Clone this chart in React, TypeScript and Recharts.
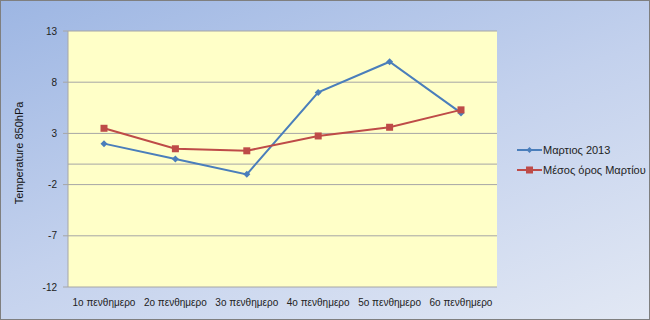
import { CartesianGrid, Line, LineChart, ReferenceLine, XAxis, YAxis } from "recharts";

const categories = ["1ο πενθημερο", "2ο πενθημερο", "3ο πενθημερο", "4ο πενθημερο", "5ο πενθημερο", "6ο πενθημερο"];
const march2013 = [2, 0.5, -1, 7, 10, 5];
const marchMean = [3.5, 1.5, 1.3, 2.75, 3.6, 5.3];
const yTicks = [-12, -7, -2, 3, 8, 13];

const data = categories.map((name, i) => ({ name, m2013: march2013[i], mean: marchMean[i] }));

const BLUE = "#4a7ebb";
const RED = "#be4b48";
const FONT = "'Liberation Sans', Arial, sans-serif";

const Diamond = (props: any) => {
  const { cx, cy } = props;
  if (cx == null || cy == null) return null;
  return <path d={`M${cx},${cy - 3.5}L${cx + 3.5},${cy}L${cx},${cy + 3.5}L${cx - 3.5},${cy}Z`} fill={BLUE} />;
};

const Square = (props: any) => {
  const { cx, cy } = props;
  if (cx == null || cy == null) return null;
  return <rect x={cx - 3.5} y={cy - 3.5} width={7} height={7} fill={RED} />;
};

const legendItems = [
  { label: "Μαρτιος 2013", color: BLUE, square: false },
  { label: "Μέσος όρος Μαρτίου", color: RED, square: true },
];

const LegendBox = () => (
  <div style={{ position: "absolute", left: 516, top: 139, fontFamily: FONT, fontSize: 11, color: "#222" }}>
    {legendItems.map((it) => (
      <div key={it.label} style={{ display: "flex", alignItems: "center", height: 20, whiteSpace: "nowrap" }}>
        <svg width={25} height={10}>
          <line x1={0} y1={5} x2={25} y2={5} stroke={it.color} strokeWidth={2} />
          {it.square ? (
            <rect x={9} y={1.5} width={7} height={7} fill={it.color} />
          ) : (
            <path d="M12.5,2L15.5,5L12.5,8L9.5,5Z" fill={it.color} />
          )}
        </svg>
        <span style={{ marginLeft: 1 }}>{it.label}</span>
      </div>
    ))}
  </div>
);

export default function App() {
  return (
    <div
      style={{
        position: "absolute",
        left: 0,
        top: 0,
        width: 648,
        height: 318,
        border: "1px solid #7f7f7f",
        background: "linear-gradient(160deg, #9db6e3 0%, #c3d1ed 50%, #e2e8f4 100%)",
      }}
    >
      <LineChart width={648} height={318} data={data} margin={{ top: 30, right: 152, bottom: 6, left: 17 }}>
        <CartesianGrid fill="#ffffc8" stroke="#a6a6a6" vertical={false} />
        <XAxis
          dataKey="name"
          axisLine={false}
          tickLine={false}
          tickSize={4}
          tickMargin={8}
          height={26}
          interval={0}
          padding={{ left: 36, right: 36 }}
          tick={{ fontSize: 10, fill: "#222", fontFamily: FONT }}
        />
        <YAxis
          domain={[-12, 13]}
          ticks={yTicks}
          width={50}
          axisLine={{ stroke: "#a6a6a6" }}
          tickLine={{ stroke: "#a6a6a6" }}
          tickSize={5}
          tickMargin={6}
          tick={{ fontSize: 10, fill: "#222", fontFamily: FONT }}
          label={{
            content: () => (
              <text
                x={18}
                y={152}
                transform="rotate(-90 18 152)"
                textAnchor="middle"
                dominantBaseline="central"
                fontSize={11}
                fontFamily={FONT}
                fill="#111"
              >
                Temperature 850hPa
              </text>
            ),
          }}
        />
        <ReferenceLine y={0} stroke="#a6a6a6" />
        <Line
          dataKey="m2013"
          name="Μαρτιος 2013"
          stroke={BLUE}
          strokeWidth={2}
          dot={Diamond}
          activeDot={false}
          isAnimationActive={false}
        />
        <Line
          dataKey="mean"
          name="Μέσος όρος Μαρτίου"
          stroke={RED}
          strokeWidth={2}
          dot={Square}
          activeDot={false}
          isAnimationActive={false}
        />
      </LineChart>
      <LegendBox />
    </div>
  );
}
